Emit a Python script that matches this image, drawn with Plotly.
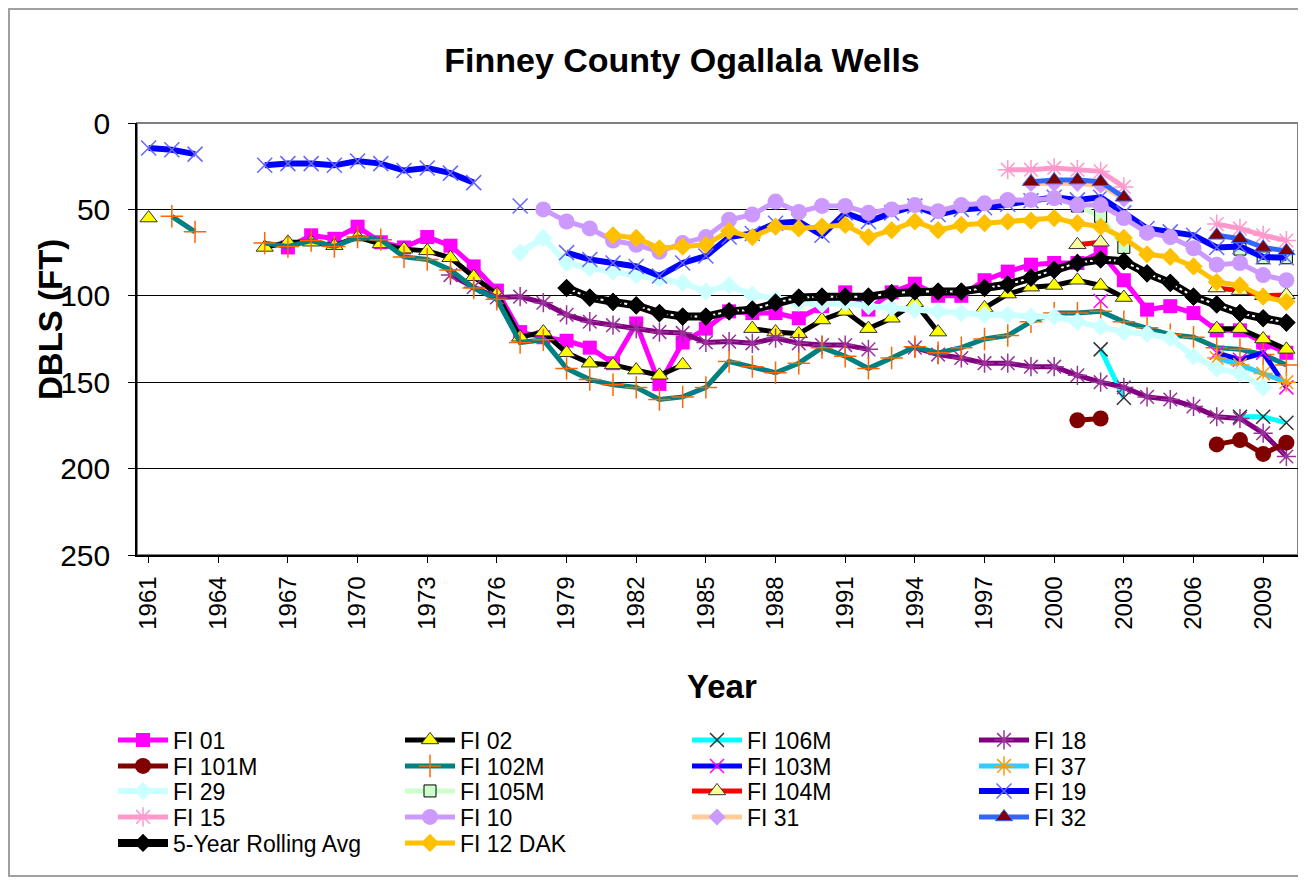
import plotly.graph_objects as go

# depth below land surface (ft), one value per year from the start year, None = no reading
fi01_start = 1967
fi01 = [72, 65, 67, 60, 69, 72, 66, 71, 83, 97, 121, 124, 126, 130, 139, 116, 151, 127, 119, 109,
        110, 110, 113, 106, 98, 108, 98, 93, 100, 100, 91, 86, 82, 81, 81, 75, 91, 108, 106, 110,
        120, 120, 127, 133]

fi02_start = 1961
fi02 = [55, None, None, None, None, 72, 69, 69, 71, 66, 70, 73, 74, 78, 89, 99, 124, 121, 133, 139,
        140, 143, 146, 140, None, None, 119, 121, 122, 114, 109, 119, 113, 104, 121, None, 107, 99,
        95, 94, 91, 94, 101, None, None, None, 119, 119, 125, 131]

fi106m_start = 2002
fi106m = [131, 159, None, None, None, None, 170, 170, 173.5]

fi18_start = 1974
fi18 = [88, 95, 101, 100.5, 104, 111, 115, 117, 119, 121, 121.5, 127, 126.5, 127.5, 124.5, 127.5,
        128.5, 128.5, 131, None, 130, 134, 136, 139, 139, 141, 141, 146, 150, 153, 158.5, 160, 164,
        170, 171, 179.5, 193]

fi101m_start = 2001
fi101m = [172, 171, None, None, None, None, 186, 183.5, 191.5, 185]

fi102m_start = 1962
fi102m = [54, 63, None, None, 69.5, 71.5, 68, 71.5, 66, 67.5, 77.5, 79, 85, 95.5, 102, 127, 125.5,
          142, 148.5, 151.5, 153, 160, 158.5, 153, 138, 141, 144.5, 139, 130, 135, 142, 136, 129.5,
          133, 130, 125, 123, 115, 110, 110, 109, 115, 118.5, 122.5, 124, 130, 131, 134, 140]

fi103m_start = 2002
fi103m = [103, None, None, None, None, 133, 137, 133, 153]

fi37_start = 2007
fi37 = [136, 140, 145, 150]

fi29_start = 1977
fi29 = [75, 66.5, 81, 84, 86, 88, 90, 92.5, 97.5, 94, 99.5, 102, 104, 105, 104, 106, 107, 108, 109,
        110, 111, 111, 112, 112, 115, 118, 121, 122, 124.5, 135, 142, 145, 153]

fi105m_start = 2001
fi105m = [48, 54, 72, None, None, None, None, 73, 78, 78]

fi104m_start = 2001
fi104m = [70.5, 69, None, None, None, None, 95.5, 97, 100, 99.5]

fi19_start = 1961
fi19 = [14.5, 15.5, 18, None, None, 24.5, 23.5, 23.5, 24.5, 22, 23.5, 27.5, 26, 29, 34.5, None, 48,
        None, 75, 79, 81, 83, 88.5, 81, 77, 66, 64, 58, 57, 65, 52, 57, 52, 48, 53, 50, 49, 47, 45,
        43, 44.5, 43, 52, 61, 63, 65, 72, 71.5, 77.5, 78]

fi15_start = 1998
fi15 = [27, 27, 26, 27, 28, 37, None, None, None, 58.5, 61, 65, 68]

fi10_start = 1978
fi10 = [50, 57, 61, 68, 70.5, 74.5, 69.5, 66, 56, 53, 45.5, 51.5, 48, 48, 52, 50, 47.5, 51, 47.5,
        46.5, 44.5, 44.5, 43.5, 47.5, 47.5, 55, 63.5, 66, 72.5, 82, 81, 88, 91]

fi31_start = 1999
fi31 = [35, 35, 35, 36, 44]

fi32_start = 1999
fi32 = [34, 33, 33, 34, 43, None, None, None, 65, 67, 72, 74]

avg5_start = 1979
avg5 = [95.5, 101, 103.5, 105.5, 110, 112, 112, 109, 108, 104, 101, 100.5, 100.5, 100.5, 98.5,
        97.5, 97.5, 97.5, 95.5, 93.5, 89.5, 85, 81, 79, 80, 87, 92.5, 100.5, 105, 110, 113, 115.5]

fi12dak_start = 1981
fi12dak = [65, 66.5, 72.5, 71.5, 70.5, 62.5, 66, 60, 61, 60, 59, 66, 62, 57, 62, 59, 58, 57, 56.5,
           55, 58, 60, 66.5, 76, 77.5, 83, 92, 94, 100.5, 103.5]

tick_years = list(range(1961, 2010, 3))
y_ticks = [0, 50, 100, 150, 200, 250]

FONT = "Arial, Liberation Sans, sans-serif"


def yrs(start, vals):
    return list(range(start, start + len(vals)))


def series(name, start, vals, line_color, symbol, size, mcolor, mline="rgba(0,0,0,0)", mlw=0,
           width=5, legend="legend"):
    return go.Scatter(
        x=yrs(start, vals), y=vals, name=name, mode="lines+markers", legend=legend,
        line=dict(color=line_color, width=width),
        marker=dict(symbol=symbol, size=size, color=mcolor, line=dict(color=mline, width=mlw)),
    )


fig = go.Figure()
# legend rows follow the reference layout (4 entries per row)
fig.add_trace(series("FI 01", fi01_start, fi01, "#FF00FF", "square", 14, "#FF00FF"))
fig.add_trace(series("FI 02", fi02_start, fi02, "#000000", "triangle-up", 15, "#FFFF00", "#333333", 1))
fig.add_trace(series("FI 106M", fi106m_start, fi106m, "#00FFFF", "x-thin-open", 14, "#333333", "#333333", 1.5))
fig.add_trace(series("FI 18", fi18_start, fi18, "#800080", "asterisk-open", 16, "#993399", "#993399", 1.5))
fig.add_trace(series("FI 101M", fi101m_start, fi101m, "#800000", "circle", 16, "#800000", legend="legend2"))
fig.add_trace(series("FI 102M", fi102m_start, fi102m, "#008080", "cross-thin-open", 16, "#FF6600", "#FF6600", 1.5, legend="legend2"))
fig.add_trace(series("FI 103M", fi103m_start, fi103m, "#0000FF", "x-thin-open", 14, "#FF00FF", "#FF00FF", 1.5, legend="legend2"))
fig.add_trace(series("FI 37", fi37_start, fi37, "#33CCFF", "asterisk-open", 16, "#FF9900", "#FF9900", 1.5, legend="legend2"))
fig.add_trace(series("FI 29", fi29_start, fi29, "#CCFFFF", "diamond", 14, "#CCFFFF", width=6, legend="legend3"))
fig.add_trace(series("FI 105M", fi105m_start, fi105m, "#CCFFCC", "square", 12, "#CCFFCC", "#000000", 1, legend="legend3"))
fig.add_trace(series("FI 104M", fi104m_start, fi104m, "#FF0000", "triangle-up", 15, "#FFFF99", "#333333", 1, legend="legend3"))
fig.add_trace(series("FI 19", fi19_start, fi19, "#0000FF", "x-thin-open", 15, "#6666FF", "#6666FF", 1.5, width=6, legend="legend3"))
fig.add_trace(series("FI 15", fi15_start, fi15, "#FF99CC", "asterisk-open", 16, "#FF99CC", "#FF99CC", 1.5, legend="legend4"))
fig.add_trace(series("FI 10", fi10_start, fi10, "#CC99FF", "circle", 16, "#CC99FF", legend="legend4"))
fig.add_trace(series("FI 31", fi31_start, fi31, "#FFCC99", "diamond", 13, "#CC99FF", legend="legend4"))
fig.add_trace(series("FI 32", fi32_start, fi32, "#3366FF", "triangle-up", 15, "#800000", "#3366FF", 1, legend="legend4"))

# rolling average: black band with white dots, diamonds on top
fig.add_trace(series("5-Year Rolling Avg", avg5_start, avg5, "#000000", "diamond", 14, "#000000", width=8, legend="legend5"))
fig.add_trace(go.Scatter(x=yrs(avg5_start, avg5), y=avg5, mode="lines", showlegend=False,
                         line=dict(color="#FFFFFF", width=2, dash="dot"), hoverinfo="skip"))
fig.add_trace(go.Scatter(x=yrs(avg5_start, avg5), y=avg5, mode="markers", showlegend=False,
                         marker=dict(symbol="diamond", size=14, color="#000000"), hoverinfo="skip"))

fig.add_trace(series("FI 12 DAK", fi12dak_start, fi12dak, "#FFC000", "diamond", 14, "#FFC000", legend="legend5"))

# the page body adds an 8px offset, so the figure is 8px smaller and everything is placed 8px earlier
OFF = 8
W, H = 1306 - OFF, 880 - OFF
L, R, T, B = 137 - OFF, 8, 123 - OFF, 325
pw, ph = W - L - R, H - T - B


def px_x(p):
    return (p - OFF - L) / pw


def px_y(p):
    return (H - B - (p - OFF)) / ph


def legend_row(center_y):
    return dict(orientation="h", x=px_x(113), xanchor="left", y=px_y(center_y), yanchor="middle",
                font=dict(size=23, family=FONT), entrywidth=222, entrywidthmode="pixels",
                itemwidth=50, bgcolor="rgba(0,0,0,0)")


fig.update_layout(
    width=W, height=H,
    margin=dict(l=L, r=R, t=T, b=B, autoexpand=False),
    paper_bgcolor="white", plot_bgcolor="white",
    font=dict(family=FONT, color="#000000"),
    title=dict(text="<b>Finney County Ogallala Wells</b>", x=(682 - OFF) / W, xanchor="center",
               y=1 - (60 - OFF) / H, yanchor="middle", font=dict(size=34, family=FONT)),
    xaxis=dict(range=[1960.5, 2010.5], tickmode="array", tickvals=tick_years,
               ticktext=[str(t) for t in tick_years], tickangle=-90,
               tickfont=dict(size=24, family=FONT), showgrid=False, zeroline=False,
               showline=True, linecolor="#000000", linewidth=1.5, automargin=False,
               ticks="outside", ticklen=6, tickcolor="#000000", ticklabelstandoff=4),
    yaxis=dict(range=[250, 0], tickmode="array", tickvals=y_ticks,
               tickfont=dict(size=30, family=FONT), showgrid=True, gridcolor="#000000",
               gridwidth=1, zeroline=False, showline=True, linecolor="#000000", linewidth=1.5,
               ticks="outside", ticklen=7, tickcolor="#000000", ticklabelstandoff=12,
               automargin=False),
    legend=legend_row(740),
    legend2=legend_row(766),
    legend3=legend_row(791),
    legend4=legend_row(817),
    legend5=legend_row(843),
    annotations=[
        dict(text="<b>DBLS (FT)</b>", x=px_x(50), y=px_y(320), xref="paper", yref="paper",
             xanchor="center", yanchor="middle",
             textangle=-90, showarrow=False, font=dict(size=33, family=FONT)),
        dict(text="<b>Year</b>", x=px_x(722), y=px_y(686), xref="paper", yref="paper",
             xanchor="center", yanchor="middle",
             showarrow=False, font=dict(size=33, family=FONT)),
    ],
    shapes=[
        dict(type="rect", xref="paper", yref="paper", x0=0, x1=1, y0=0, y1=1,
             line=dict(color="#808080", width=2), layer="below"),
        dict(type="rect", xref="paper", yref="paper", x0=px_x(9), x1=px_x(1302),
             y0=px_y(876), y1=px_y(9), line=dict(color="#A0A0A0", width=2), layer="below"),
    ],
)

fig.write_html("out.html")
